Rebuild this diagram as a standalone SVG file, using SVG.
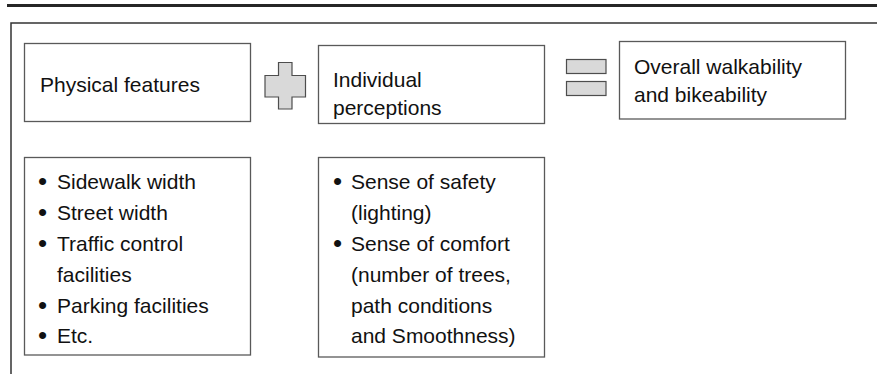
<svg xmlns="http://www.w3.org/2000/svg" width="877" height="375" viewBox="0 0 877 375">
<style>
.box{fill:#fff;stroke:#595959;stroke-width:1.3}
.sym{fill:#d9d9d9;stroke:#4d4d4d;stroke-width:1.2}
text{font-family:"Liberation Sans",Arial,sans-serif;font-size:21px;fill:#111}
.b{font-size:26px}
</style>
<rect width="877" height="375" fill="#fff"/>
<line x1="7" y1="5.5" x2="877" y2="5.5" stroke="#262626" stroke-width="3"/>
<path d="M11,374 V23 H877" fill="none" stroke="#333" stroke-width="1.5"/>
<g id="physical">
<rect class="box" x="24.5" y="43.5" width="226" height="78"/>
<text x="40" y="92">Physical features</text>
</g>
<g id="plus">
<path class="sym" d="M278.5,62.5 H292 V75.5 H305.5 V97 H292 V109 H278.5 V97 H265 V75.5 H278.5 Z"/>
</g>
<g id="perceptions">
<rect class="box" x="318.5" y="45.5" width="226" height="78"/>
<text x="333" y="87">Individual</text>
<text x="333" y="115">perceptions</text>
</g>
<g id="equals">
<rect class="sym" x="566.5" y="59.5" width="39.5" height="14"/>
<rect class="sym" x="566.5" y="81.5" width="39.5" height="14"/>
</g>
<g id="overall">
<rect class="box" x="619.5" y="41.5" width="226" height="77.5"/>
<text x="634" y="74">Overall walkability</text>
<text x="634" y="102">and bikeability</text>
</g>
<g id="physical-list">
<rect class="box" x="24.5" y="157.5" width="226" height="197.5"/>
<text class="b" x="38" y="190">•</text><text x="57" y="189">Sidewalk width</text>
<text class="b" x="38" y="221">•</text><text x="57" y="220">Street width</text>
<text class="b" x="38" y="252">•</text><text x="57" y="251">Traffic control</text>
<text x="57" y="282">facilities</text>
<text class="b" x="38" y="314">•</text><text x="57" y="313">Parking facilities</text>
<text class="b" x="38" y="344">•</text><text x="57" y="343">Etc.</text>
</g>
<g id="perception-list">
<rect class="box" x="318.5" y="157.5" width="226" height="199.5"/>
<text class="b" x="333" y="190">•</text><text x="351" y="189">Sense of safety</text>
<text x="351" y="220">(lighting)</text>
<text class="b" x="333" y="252">•</text><text x="351" y="251">Sense of comfort</text>
<text x="351" y="282">(number of trees,</text>
<text x="351" y="313">path conditions</text>
<text x="351" y="343">and Smoothness)</text>
</g>
<g id="connectors"></g>
</svg>
